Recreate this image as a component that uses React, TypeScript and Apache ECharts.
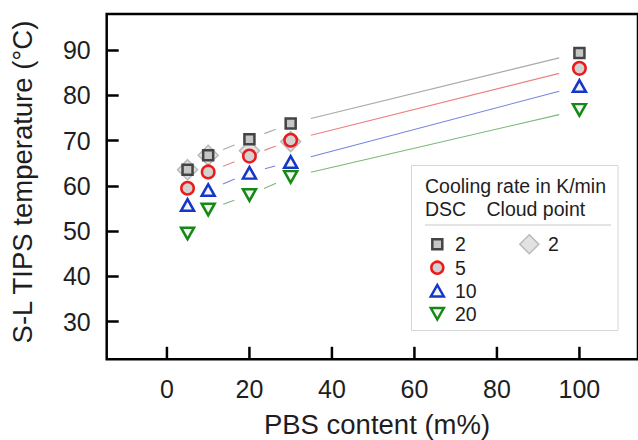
import React, { useEffect, useRef } from "react";
import * as echarts from "echarts";

const FONT = "Liberation Sans, Arial, sans-serif";

// ---- data ----
const pbsContent = [5, 10, 20, 30, 100];
const dscRate2 = [63.6, 66.8, 70.3, 73.8, 89.4];
const dscRate5 = [59.5, 63.1, 66.6, 70.1, 86.0];
const dscRate10 = [55.8, 59.1, 62.9, 65.3, 82.1];
const dscRate20 = [49.5, 54.8, 58.0, 62.0, 76.8];
const cloudPbs = [5, 10, 20, 30];
const cloudRate2 = [63.6, 66.8, 67.8, 69.8];

const xTicks = [0, 20, 40, 60, 80, 100];
const yTicks = [30, 40, 50, 60, 70, 80, 90];

const legendTitle = "Cooling rate in K/min";
const legendColA = "DSC";
const legendColB = "Cloud point";
const dscLabels = ["2", "5", "10", "20"];
const cloudLabels = ["2"];

const xTitle = "PBS content (m%)";
const yTitle = "S-L TIPS temperature (°C)";

const X_MIN = -14.6;
const X_MAX = 114.2;
const Y_MIN = 21.7;
const Y_MAX = 98;

// ---- styles ----
const C = {
  sqStroke: "#444444",
  sqFill: "#c6c6c6",
  red: "#ee1a1a",
  blue: "#1636c8",
  green: "#148a14",
  markerFill: "#d2d2d2",
  triFill: "#f4f4f4",
  diaStroke: "#b9b9b9",
  diaFill: "#e2e2e2",
  lineGray: "#a8a8a8",
  lineRed: "#ee8080",
  lineBlue: "#7585dc",
  lineGreen: "#78b878",
};

function segs(xs: number[], ys: number[]) {
  return ys.slice(0, -1).map((y, i) => [xs[i], y, xs[i + 1], ys[i + 1]]);
}

function segSeries(xs: number[], ys: number[], color: string) {
  return {
    type: "custom",
    coordinateSystem: "cartesian2d",
    silent: true,
    z: 1,
    data: segs(xs, ys),
    encode: { x: [0, 2], y: [1, 3] },
    renderItem: (params: any, api: any) => {
      const a = api.coord([api.value(0), api.value(1)]);
      const b = api.coord([api.value(2), api.value(3)]);
      const dx = b[0] - a[0];
      const dy = b[1] - a[1];
      const len = Math.hypot(dx, dy);
      const gap = Math.max(16, len * 0.07);
      if (len <= 2 * gap) return { type: "group", children: [] };
      const ux = dx / len;
      const uy = dy / len;
      return {
        type: "line",
        shape: {
          x1: a[0] + ux * gap,
          y1: a[1] + uy * gap,
          x2: b[0] - ux * gap,
          y2: b[1] - uy * gap,
        },
        style: { stroke: color, lineWidth: 1.1 },
      };
    },
  };
}

function pts(xs: number[], ys: number[]) {
  return xs.map((x, i) => [x, ys[i]]);
}

export default function App() {
  const ref = useRef<HTMLDivElement>(null);

  useEffect(() => {
    if (!ref.current) return;
    const chart = echarts.init(ref.current, null, { renderer: "svg" });

    // legend geometry
    const lx = 437.3;
    const rowY = [244.3, 267.7, 291, 313.5];
    const tx = 455;
    const legendText = (text: string, x: number, y: number) => ({
      type: "text",
      x,
      y,
      z: 20,
      style: {
        text,
        fill: "#1e1e1e",
        font: `19.5px ${FONT}`,
        textAlign: "left",
        textVerticalAlign: "middle",
      },
    });

    const graphics: any[] = [
      {
        type: "rect",
        z: 10,
        shape: { x: 411.5, y: 165.5, width: 206.5, height: 165 },
        style: { fill: "#ffffff", stroke: "#d6d6d6", lineWidth: 1 },
      },
      legendText(legendTitle, 425, 186),
      legendText(legendColA, 425, 208.5),
      legendText(legendColB, 486.5, 208.5),
      {
        type: "line",
        z: 20,
        shape: { x1: 425, y1: 225, x2: 611, y2: 225 },
        style: { stroke: "#c8c8c8", lineWidth: 1 },
      },
      {
        type: "rect",
        z: 20,
        shape: { x: lx - 5, y: rowY[0] - 5, width: 10, height: 10 },
        style: { fill: C.sqFill, stroke: C.sqStroke, lineWidth: 2.5 },
      },
      {
        type: "circle",
        z: 20,
        shape: { cx: lx, cy: rowY[1], r: 6 },
        style: { fill: C.markerFill, stroke: C.red, lineWidth: 2.5 },
      },
      {
        type: "polygon",
        z: 20,
        shape: {
          points: [
            [lx, rowY[2] - 6],
            [lx + 6.5, rowY[2] + 5.5],
            [lx - 6.5, rowY[2] + 5.5],
          ],
        },
        style: { fill: C.triFill, stroke: C.blue, lineWidth: 2.5 },
      },
      {
        type: "polygon",
        z: 20,
        shape: {
          points: [
            [lx, rowY[3] + 6],
            [lx + 6.5, rowY[3] - 5.5],
            [lx - 6.5, rowY[3] - 5.5],
          ],
        },
        style: { fill: C.triFill, stroke: C.green, lineWidth: 2.5 },
      },
      {
        type: "polygon",
        z: 20,
        shape: {
          points: [
            [529.3, rowY[0] - 9.5],
            [529.3 + 9.5, rowY[0]],
            [529.3, rowY[0] + 9.5],
            [529.3 - 9.5, rowY[0]],
          ],
        },
        style: { fill: C.diaFill, stroke: C.diaStroke, lineWidth: 1.5 },
      },
      ...dscLabels.map((t, i) => legendText(t, tx, rowY[i])),
      ...cloudLabels.map((t) => legendText(t, 548, rowY[0])),
      {
        type: "text",
        x: 22,
        y: 182,
        rotation: Math.PI / 2,
        style: {
          text: yTitle,
          fill: "#1e1e1e",
          font: `27.5px ${FONT}`,
          textAlign: "center",
          textVerticalAlign: "middle",
        },
      },
      {
        type: "text",
        x: 377,
        y: 424,
        style: {
          text: xTitle,
          fill: "#1e1e1e",
          font: `27.5px ${FONT}`,
          textAlign: "center",
          textVerticalAlign: "middle",
        },
      },
    ];

    const scatter = (
      data: number[][],
      symbol: string,
      size: number | number[],
      fill: string,
      stroke: string,
      bw: number,
      z: number,
      rotate = 0
    ) => ({
      type: "scatter",
      data,
      symbol,
      symbolSize: size,
      symbolRotate: rotate,
      z,
      itemStyle: { color: fill, borderColor: stroke, borderWidth: bw, opacity: 1 },
      emphasis: { disabled: true },
    });

    chart.setOption({
      animation: false,
      grid: {
        left: 106.7,
        top: 14,
        width: 532.3,
        height: 345.3,
        show: true,
        borderColor: "#000",
        borderWidth: 2.5,
        backgroundColor: "transparent",
      },
      xAxis: {
        type: "value",
        position: "bottom",
        min: X_MIN,
        max: X_MAX,
        axisLine: { show: false, onZero: false },
        splitLine: { show: false },
        axisTick: { show: false },
        axisLabel: {
          customValues: xTicks,
          fontSize: 25,
          fontFamily: FONT,
          color: "#1e1e1e",
          margin: 17,
        },
      },
      yAxis: {
        type: "value",
        position: "left",
        min: Y_MIN,
        max: Y_MAX,
        axisLine: { show: false, onZero: false },
        splitLine: { show: false },
        axisTick: {
          show: true,
          inside: true,
          length: 12,
          lineStyle: { color: "#000", width: 2.5 },
          customValues: yTicks,
        },
        axisLabel: {
          customValues: yTicks,
          fontSize: 25,
          fontFamily: FONT,
          color: "#1e1e1e",
          margin: 16,
        },
      },
      series: [
        segSeries(pbsContent, dscRate2, C.lineGray),
        segSeries(pbsContent, dscRate5, C.lineRed),
        segSeries(pbsContent, dscRate10, C.lineBlue),
        segSeries(pbsContent, dscRate20, C.lineGreen),
        scatter(pts(cloudPbs, cloudRate2), "diamond", 20, C.diaFill, C.diaStroke, 1.5, 2),
        scatter(pts(pbsContent, dscRate2), "rect", 10, C.sqFill, C.sqStroke, 2.5, 5),
        scatter(pts(pbsContent, dscRate5), "circle", 12.5, C.markerFill, C.red, 2.5, 5),
        scatter(pts(pbsContent, dscRate10), "triangle", [13, 11.5], C.triFill, C.blue, 2.5, 5),
        scatter(pts(pbsContent, dscRate20), "triangle", [13, 11.5], C.triFill, C.green, 2.5, 5, 180),
      ],
      graphic: graphics,
    });

    // inward x ticks, positioned through the chart's own x scale
    const tickGraphics = xTicks.map((v) => {
      const p = chart.convertToPixel({ gridIndex: 0 }, [v, Y_MIN]) as number[];
      return {
        type: "rect",
        z: 100,
        zlevel: 1,
        shape: { x: p[0] - 1.25, y: p[1] - 12.5, width: 2.5, height: 12.5 },
        style: { fill: "#000" },
      };
    });
    chart.setOption({ graphic: [...graphics, ...tickGraphics] });

    return () => chart.dispose();
  }, []);

  return (
    <div
      ref={ref}
      style={{ position: "fixed", left: 0, top: 0, width: 638, height: 440, background: "#fff" }}
    />
  );
}
